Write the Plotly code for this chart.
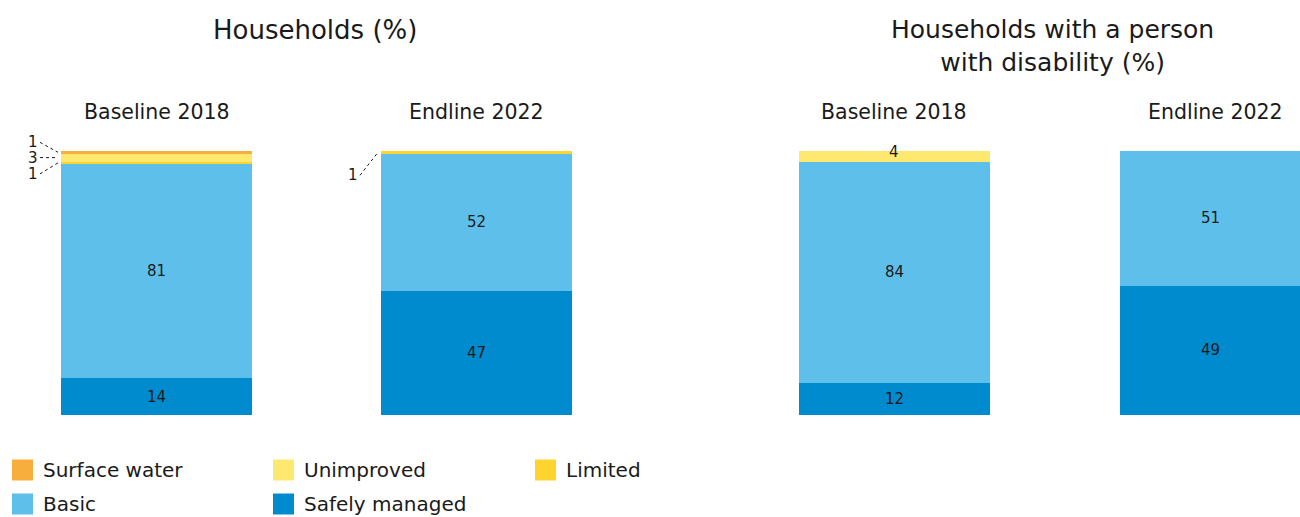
import plotly.graph_objects as go

W, H = 1300, 517

# ---- data ----
panels = ["Baseline 2018", "Endline 2022", "Baseline 2018", "Endline 2022"]
groups = ["Households (%)", "Households with a person<br>with disability (%)"]
categories = ["Safely managed", "Basic", "Limited", "Unimproved", "Surface water"]  # bottom -> top
safely_managed = [14, 47, 12, 49]
basic = [81, 52, 84, 51]
limited = [1, 1, 0, 0]
unimproved = [3, 0, 4, 0]
surface_water = [1, 0, 0, 0]
legend_order = ["Surface water", "Unimproved", "Limited", "Basic", "Safely managed"]

series = {
    "Safely managed": safely_managed,
    "Basic": basic,
    "Limited": limited,
    "Unimproved": unimproved,
    "Surface water": surface_water,
}
colors = {
    "Surface water": "#F8AE3C",
    "Unimproved": "#FFE86F",
    "Limited": "#FFD42E",
    "Basic": "#5FBFEB",
    "Safely managed": "#008BCE",
}

FONT = "Verdana, DejaVu Sans, sans-serif"
TXT = "#1a1a1a"

# ---- layout geometry (pixels) ----
bar_px = [(61, 252), (381, 572), (799, 990), (1120, 1300)]
ybot_px, ytop_px = 415, 151
yd0 = 1 - ybot_px / H
yd1 = 1 - ytop_px / H

fig = go.Figure()
layout = dict(
    width=W, height=H, margin=dict(l=0, r=0, t=0, b=0),
    paper_bgcolor="white", plot_bgcolor="white",
    barmode="stack", showlegend=False, font=dict(family=FONT, color=TXT),
)

for i, (x0, x1) in enumerate(bar_px):
    n = "" if i == 0 else str(i + 1)
    layout["xaxis" + n] = dict(domain=[x0 / W, x1 / W], range=[-0.5, 0.5], visible=False,
                               anchor="y" + n, fixedrange=True)
    layout["yaxis" + n] = dict(domain=[yd0, yd1], range=[0, 100], visible=False,
                               anchor="x" + n, fixedrange=True)

for cat in categories:
    for i in range(len(panels)):
        n = "" if i == 0 else str(i + 1)
        fig.add_trace(go.Bar(
            x=[0], y=[series[cat][i]], width=1, name=cat,
            marker=dict(color=colors[cat], line=dict(width=0)),
            xaxis="x" + n, yaxis="y" + n, hoverinfo="name+y",
        ))

annotations = []
shapes = []

# outside-label offsets for thin segments (pixel offsets of label from bar left edge / segment centre)
outside = {
    (0, "Surface water"): (-28, -10),
    (0, "Unimproved"): (-28, 0),
    (0, "Limited"): (-28, 11),
    (1, "Limited"): (-28, 23),
}

for i in range(len(panels)):
    n = "" if i == 0 else str(i + 1)
    cum = 0
    for cat in categories:
        v = series[cat][i]
        if v <= 0:
            continue
        c = cum + v / 2
        cum += v
        ypix = H * (1 - (yd0 + c / 100 * (yd1 - yd0)))
        if (i, cat) in outside:
            dx, dy = outside[(i, cat)]
            lx = bar_px[i][0] + dx
            ly = ypix + dy
            annotations.append(dict(text=str(v), x=lx / W, y=1 - ly / H, xref="paper", yref="paper",
                                    showarrow=False, xanchor="center", yanchor="middle",
                                    font=dict(size=15, color=TXT)))
            shapes.append(dict(type="line", xref="paper", yref="paper",
                               x0=(lx + 7) / W, y0=1 - ly / H,
                               x1=(bar_px[i][0] - 3) / W, y1=1 - ypix / H,
                               line=dict(color=TXT, width=1, dash="3px,3px")))
        else:
            annotations.append(dict(text=str(v), x=0, y=c, xref="x" + n, yref="y" + n,
                                    showarrow=False, font=dict(size=15, color=TXT),
                                    yshift=4 if v < 6 else 0))

# panel subtitles
for i, p in enumerate(panels):
    x0, x1 = bar_px[i]
    cx = (x0 + x1) / 2 if i < 3 else (x0 + x0 + 191) / 2
    annotations.append(dict(text=p, x=cx / W, y=1 - 112 / H, xref="paper", yref="paper",
                            showarrow=False, xanchor="center", yanchor="middle",
                            font=dict(size=20.5, color=TXT)))

# group titles
annotations.append(dict(text=groups[0], x=315 / W, y=1 - 30 / H, xref="paper", yref="paper",
                        showarrow=False, xanchor="center", yanchor="middle",
                        font=dict(size=26, color=TXT)))
annotations.append(dict(text=groups[1], x=1052 / W, y=1 - 45.5 / H, xref="paper", yref="paper",
                        showarrow=False, xanchor="center", yanchor="middle",
                        font=dict(size=25, color=TXT)))

# legend (manual, 3 columns)
col_x = [12, 273, 535]
row_y = [470, 504]
for k, cat in enumerate(legend_order):
    cx = col_x[k % 3]
    cy = row_y[k // 3]
    shapes.append(dict(type="rect", xref="paper", yref="paper",
                       x0=cx / W, x1=(cx + 21) / W, y0=1 - (cy - 10.5) / H, y1=1 - (cy + 10.5) / H,
                       fillcolor=colors[cat], line=dict(width=0)))
    annotations.append(dict(text=cat, x=(cx + 29) / W, y=1 - cy / H, xref="paper", yref="paper",
                            showarrow=False, xanchor="left", yanchor="middle",
                            font=dict(size=20, color=TXT)))

layout["annotations"] = annotations
layout["shapes"] = shapes
fig.update_layout(**layout)
fig.write_html("out.html")
